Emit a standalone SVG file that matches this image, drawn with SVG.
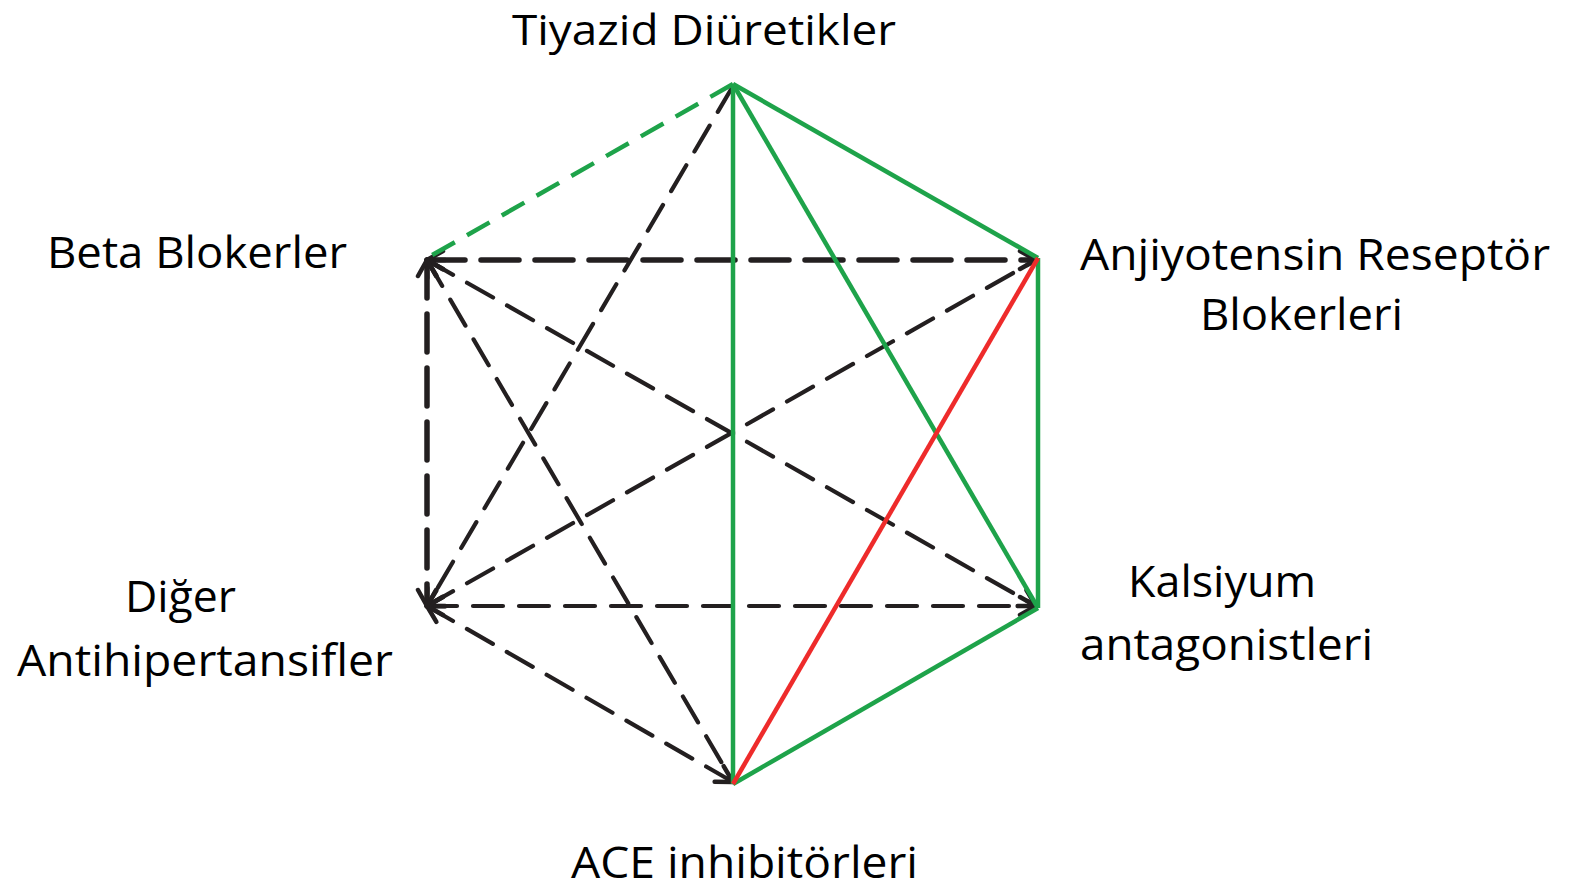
<svg xmlns="http://www.w3.org/2000/svg" width="1571" height="891" viewBox="0 0 1571 891">
<style>
.lbl{font-family:"Open Sans","Liberation Sans",sans-serif;font-size:44px;fill:#000}
.blk{stroke:#231f20;stroke-width:4.2;fill:none;stroke-dasharray:30 16;stroke-linecap:round}
.thick{stroke-width:5.5;stroke-dasharray:38 16}
.grn{stroke:#1ea34a;stroke-width:4.5;fill:none}
.red{stroke:#ee2b2b;stroke-width:4.5;fill:none}
</style>
<defs>
<marker id="arr" markerUnits="userSpaceOnUse" markerWidth="24" markerHeight="24" viewBox="0 0 24 24" refX="21" refY="12" orient="auto-start-reverse">
<path d="M5,3 L21,12 L5,21" fill="none" stroke="#231f20" stroke-width="4.5" stroke-linecap="round" stroke-linejoin="round"/>
</marker>
</defs>
<g id="connectors">
<line class="blk" x1="733" y1="86" x2="427" y2="606" marker-end="url(#arr)"/>
<line class="blk" x1="427" y1="260" x2="1036" y2="606" marker-start="url(#arr)" marker-end="url(#arr)"/>
<line class="blk" x1="427" y1="606" x2="1036" y2="260" marker-start="url(#arr)"/>
<line class="blk" x1="427" y1="260" x2="733" y2="782" marker-start="url(#arr)"/>
<line class="blk" x1="427" y1="606" x2="733" y2="782" marker-start="url(#arr)" marker-end="url(#arr)"/>
<line class="blk" x1="427" y1="606" x2="1036" y2="606" marker-start="url(#arr)" marker-end="url(#arr)"/>
<line class="blk thick" x1="427" y1="260" x2="1036" y2="260" marker-start="url(#arr)" marker-end="url(#arr)"/>
<line class="blk thick" x1="427" y1="260" x2="427" y2="606" marker-start="url(#arr)" marker-end="url(#arr)"/>
<line class="grn" x1="733" y1="84" x2="427" y2="258" stroke-dasharray="26 14"/>
<line class="grn" x1="733" y1="84" x2="733" y2="784"/>
<line class="grn" x1="733" y1="84" x2="1038" y2="258"/>
<line class="grn" x1="733" y1="84" x2="1038" y2="608"/>
<line class="grn" x1="1038" y1="258" x2="1038" y2="608"/>
<line class="grn" x1="1038" y1="608" x2="733" y2="784"/>
<line class="red" x1="1038" y1="258" x2="733" y2="784"/>
</g>
<g id="node-tiyazid"><text class="lbl" x="512" y="45" font-size="42" style="font-size:42px" textLength="384" lengthAdjust="spacingAndGlyphs">Tiyazid Diüretikler</text></g>
<g id="node-beta"><text class="lbl" x="47" y="268" textLength="300" lengthAdjust="spacingAndGlyphs">Beta Blokerler</text></g>
<g id="node-arb"><text class="lbl" x="1080" y="270" textLength="470" lengthAdjust="spacingAndGlyphs">Anjiyotensin Reseptör</text><text class="lbl" x="1200" y="330" textLength="203" lengthAdjust="spacingAndGlyphs">Blokerleri</text></g>
<g id="node-kalsiyum"><text class="lbl" x="1128" y="597" textLength="188" lengthAdjust="spacingAndGlyphs">Kalsiyum</text><text class="lbl" x="1080" y="660" textLength="293" lengthAdjust="spacingAndGlyphs">antagonistleri</text></g>
<g id="node-diger"><text class="lbl" x="125" y="612" textLength="111" lengthAdjust="spacingAndGlyphs">Diğer</text><text class="lbl" x="17" y="676" textLength="376" lengthAdjust="spacingAndGlyphs">Antihipertansifler</text></g>
<g id="node-ace"><text class="lbl" x="571" y="878" textLength="347" lengthAdjust="spacingAndGlyphs">ACE inhibitörleri</text></g>
</svg>
